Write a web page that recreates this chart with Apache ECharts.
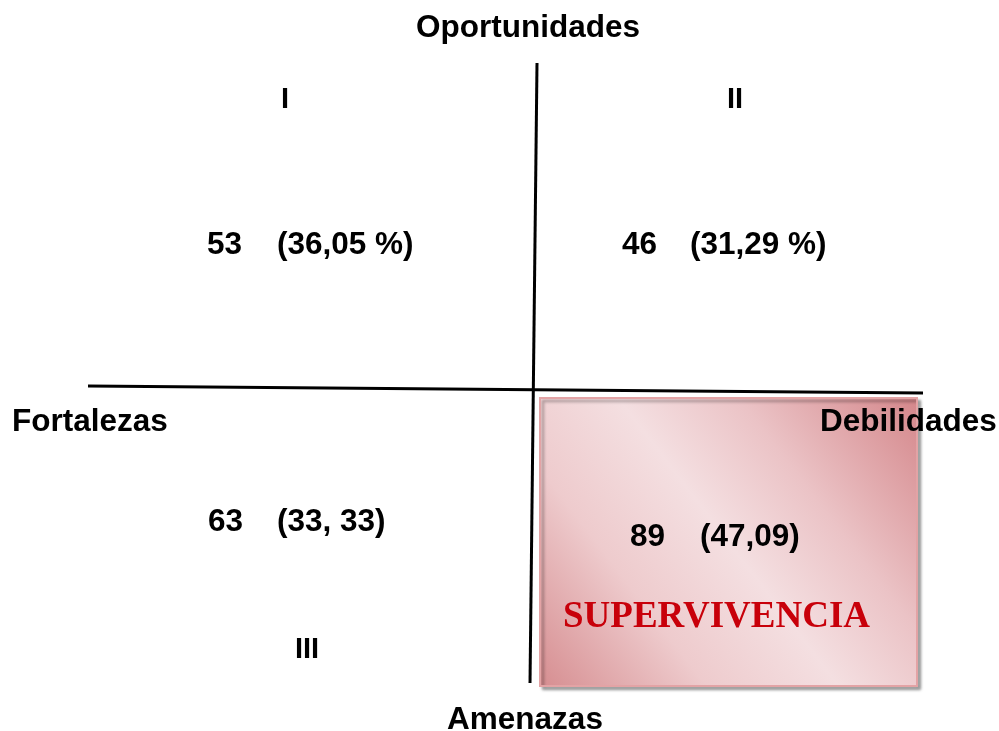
<!DOCTYPE html>
<html>
<head>
<meta charset="utf-8">
<script src="https://cdn.jsdelivr.net/npm/echarts@6/dist/echarts.min.js"></script>
<style>
  html, body { margin: 0; padding: 0; background: #fff; }
  #main { width: 999px; height: 731px; }
</style>
</head>
<body>
<div id="main"></div>
<script>
// datos de la matriz
var ejes = ['Oportunidades', 'Amenazas', 'Fortalezas', 'Debilidades'];
var cuadrantes = ['I', 'II', 'III', 'IV'];
var cantidades = ['53', '46', '63', '89'];
var porcentajes = ['(36,05 %)', '(31,29 %)', '(33, 33)', '(47,09)'];
var estrategia = 'SUPERVIVENCIA';

var fuente = '"Liberation Sans", Arial, sans-serif';

function texto(str, x, y, align, extra) {
    var st = {
        text: str,
        x: x,
        y: y,
        textAlign: align,
        textVerticalAlign: 'middle',
        fontFamily: fuente,
        fontWeight: 'bold',
        fontSize: 31.5,
        fill: '#000'
    };
    for (var k in extra) st[k] = extra[k];
    return { type: 'text', z: 10, style: st };
}

var chart = echarts.init(document.getElementById('main'));

chart.setOption({
    animation: false,
    graphic: [
        // cuadro rosado (cuadrante IV)
        {
            type: 'rect',
            z: 1,
            shape: { x: 540, y: 398, width: 377, height: 288 },
            style: {
                fill: new echarts.graphic.LinearGradient(1, 0, 0, 1, [
                    { offset: 0, color: '#d4868a' },
                    { offset: 0.3, color: '#ebc3c6' },
                    { offset: 0.5, color: '#f4dfe1' },
                    { offset: 0.72, color: '#eecbcd' },
                    { offset: 1, color: '#d68d90' }
                ]),
                stroke: '#e3a3a5',
                lineWidth: 2,
                shadowBlur: 3,
                shadowOffsetX: 3,
                shadowOffsetY: 3,
                shadowColor: 'rgba(0,0,0,0.35)'
            }
        },
        // ejes
        {
            type: 'line',
            z: 2,
            shape: { x1: 537, y1: 63, x2: 530, y2: 683 },
            style: { stroke: '#000', lineWidth: 3 }
        },
        {
            type: 'line',
            z: 2,
            shape: { x1: 88, y1: 386, x2: 923, y2: 393 },
            style: { stroke: '#000', lineWidth: 3 }
        },
        texto(ejes[0], 528, 28, 'center'),
        texto(ejes[1], 525, 720, 'center'),
        texto(ejes[2], 12, 422, 'left'),
        texto(ejes[3], 820, 422, 'left'),
        texto(cuadrantes[0], 285, 100, 'center', { fontSize: 29 }),
        texto(cuadrantes[1], 735, 100, 'center', { fontSize: 29 }),
        texto(cuadrantes[2], 307, 650, 'center', { fontSize: 29 }),
        texto(cantidades[0], 207, 245, 'left'),
        texto(porcentajes[0], 277, 245, 'left'),
        texto(cantidades[1], 622, 245, 'left'),
        texto(porcentajes[1], 690, 245, 'left'),
        texto(cantidades[2], 208, 522, 'left'),
        texto(porcentajes[2], 277, 522, 'left'),
        texto(cantidades[3], 630, 537, 'left'),
        texto(porcentajes[3], 700, 537, 'left'),
        texto(estrategia, 563, 617, 'left', {
            fontFamily: '"Liberation Serif", "Times New Roman", serif',
            fontSize: 37,
            fill: '#c8000a'
        })
    ]
});
</script>
</body>
</html>
